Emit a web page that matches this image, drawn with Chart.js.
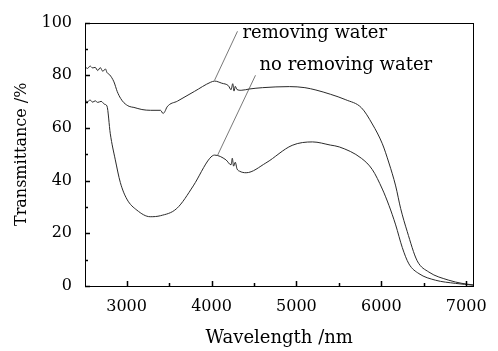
<!DOCTYPE html>
<html>
<head>
<meta charset="utf-8">
<script src="https://cdn.jsdelivr.net/npm/chart.js@4/dist/chart.umd.min.js"></script>
<style>
  body { margin: 0; background: #fff; }
</style>
</head>
<body>
<canvas id="chart" width="498" height="351"></canvas>
<script>
// wavelength (nm) / transmittance (%)
const wlRemoving = [2510, 2540, 2570, 2600, 2630, 2660, 2690, 2720, 2750, 2770, 2800, 2851, 2890, 2930, 2968, 3030, 3086, 3180, 3282, 3399, 3430, 3450, 3477, 3600, 3800, 3986, 4036, 4120, 4200, 4230, 4250, 4265, 4280, 4300, 4350, 4447, 4600, 4917, 5100, 5230, 5400, 5582, 5765, 5894, 6012, 6090, 6169, 6228, 6305, 6422, 6560, 6795, 6950, 7085];
const tRemoving = [83.3, 82.6, 83.5, 82.8, 83.0, 81.8, 82.9, 81.5, 82.4, 81.0, 80.2, 77.5, 73.8, 71.2, 69.6, 68.2, 67.8, 67.0, 66.7, 66.7, 65.5, 66.2, 68.0, 70.2, 73.9, 77.3, 77.8, 77.0, 76.0, 74.5, 76.8, 74.0, 75.8, 74.6, 74.3, 74.8, 75.3, 75.7, 75.3, 74.4, 72.8, 70.7, 67.7, 61.5, 54.0, 46.7, 38.0, 29.4, 20.7, 9.6, 5.3, 2.2, 1.0, 0.4];

const wlNoRemoving = [2510, 2540, 2570, 2600, 2630, 2660, 2700, 2740, 2769, 2808, 2867, 2926, 3003, 3121, 3278, 3400, 3590, 3785, 3980, 4036, 4170, 4230, 4245, 4260, 4280, 4300, 4330, 4408, 4640, 4950, 5190, 5400, 5505, 5765, 5894, 6012, 6090, 6169, 6247, 6325, 6443, 6638, 6873, 7085];
const tNoRemoving = [70.5, 70.0, 70.6, 69.8, 70.3, 69.7, 70.1, 69.0, 68.3, 57.8, 47.9, 39.3, 33.0, 28.8, 26.3, 26.7, 29.4, 38.0, 48.5, 49.7, 47.9, 46.0, 48.5, 45.5, 47.0, 44.5, 43.6, 43.0, 46.7, 53.4, 54.7, 53.5, 52.8, 48.5, 44.2, 36.8, 30.6, 23.2, 14.6, 8.4, 4.7, 2.2, 1.0, 0.3];

// axis ticks (labelled ones get a longer mark)
const xTicks = [3000, 3500, 4000, 4500, 5000, 5500, 6000, 6500, 7000];
const xLabelled = [3000, 4000, 5000, 6000, 7000];
const yTicks = [0, 10, 20, 30, 40, 50, 60, 70, 80, 90, 100];
const yLabelled = [0, 20, 40, 60, 80, 100];

// labels with their leader lines (data units)
const labelText = ["removing water", "no removing water"];
const labelX = [4365, 4565];
const labelY = [96.0, 83.6];
const leaderX = [[4306, 4036], [4518, 4071]];
const leaderY = [[96.7, 78.1], [80.0, 49.6]];

const xMin = 2510, xMax = 7085;
const yMin = 0, yMax = 100;

const FONT = '"DejaVu Serif", serif';

function pts(xs, ys) {
    return xs.map((x, i) => ({ x: x, y: ys[i] }));
}

const datasets = [
    { data: pts(wlRemoving, tRemoving), borderColor: "#2a2a2a", borderWidth: 1, cubicInterpolationMode: "monotone" },
    { data: pts(wlNoRemoving, tNoRemoving), borderColor: "#2a2a2a", borderWidth: 1, cubicInterpolationMode: "monotone" }
];
leaderX.forEach((xs, i) => {
    datasets.push({ data: pts(xs, leaderY[i]), borderColor: "#555", borderWidth: 0.8 });
});

const frame = {
    id: "frame",
    afterDraw(chart) {
        const ctx = chart.ctx;
        const a = chart.chartArea;
        const xs = chart.scales.x, ys = chart.scales.y;
        ctx.save();
        ctx.strokeStyle = "#000";
        ctx.lineWidth = 1;
        ctx.strokeRect(Math.round(a.left) + 0.5, Math.round(a.top) + 0.5,
            Math.round(a.right - a.left), Math.round(a.bottom - a.top));
        ctx.lineWidth = 1.5;
        ctx.beginPath();
        xs.ticks.forEach(t => {
            const px = Math.round(xs.getPixelForValue(t.value)) + 0.5;
            const len = xLabelled.includes(t.value) ? 5 : 3;
            ctx.moveTo(px, a.bottom);
            ctx.lineTo(px, a.bottom - len);
        });
        ys.ticks.forEach(t => {
            const py = Math.round(ys.getPixelForValue(t.value)) + 0.5;
            const len = yLabelled.includes(t.value) ? 5 : 3;
            ctx.moveTo(a.left, py);
            ctx.lineTo(a.left + len, py);
        });
        ctx.stroke();

        ctx.fillStyle = "#000";
        ctx.font = "18px " + FONT;
        ctx.textBaseline = "middle";
        ctx.textAlign = "left";
        labelText.forEach((txt, i) => {
            ctx.fillText(txt, xs.getPixelForValue(labelX[i]), ys.getPixelForValue(labelY[i]));
        });
        ctx.restore();
    }
};

new Chart(document.getElementById("chart"), {
    type: "line",
    data: { datasets: datasets },
    options: {
        responsive: false,
        animation: false,
        parsing: false,
        layout: { padding: { top: 16, right: 23, left: 0, bottom: 0 } },
        elements: { point: { radius: 0 }, line: { tension: 0 } },
        plugins: { legend: { display: false }, tooltip: { enabled: false } },
        scales: {
            x: {
                type: "linear",
                min: xMin,
                max: xMax,
                grid: { display: false, drawTicks: false },
                border: { display: false },
                afterBuildTicks(scale) { scale.ticks = xTicks.map(v => ({ value: v })); },
                afterFit(scale) { scale.height = 65; },
                ticks: {
                    autoSkip: false,
                    maxRotation: 0,
                    padding: 11,
                    color: "#000",
                    font: { family: FONT, size: 16 },
                    callback: v => (xLabelled.includes(v) ? String(v) : "")
                },
                title: {
                    display: true,
                    text: "Wavelength /nm",
                    color: "#000",
                    font: { family: FONT, size: 18 },
                    padding: { top: 0, bottom: 2 }
                }
            },
            y: {
                min: yMin,
                max: yMax,
                grid: { display: false, drawTicks: false },
                border: { display: false },
                afterBuildTicks(scale) { scale.ticks = yTicks.map(v => ({ value: v })); },
                afterFit(scale) { scale.width = 85; },
                ticks: {
                    autoSkip: false,
                    padding: 13,
                    color: "#000",
                    font: { family: FONT, size: 16 },
                    callback: v => (yLabelled.includes(v) ? String(v) : "")
                },
                title: {
                    display: true,
                    text: "Transmittance /%",
                    color: "#000",
                    font: { family: FONT, size: 16 },
                    padding: { top: 12, bottom: 0 }
                }
            }
        }
    },
    plugins: [frame]
});
</script>
</body>
</html>
